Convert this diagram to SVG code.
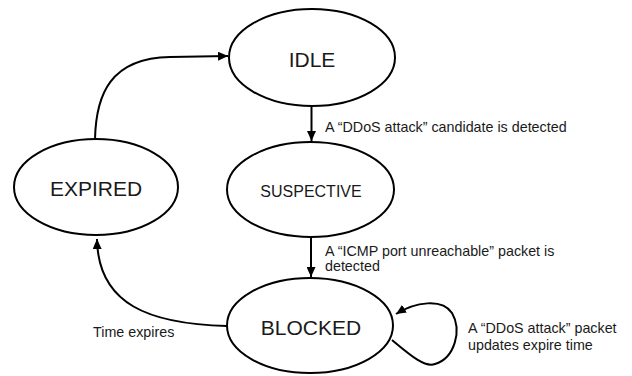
<svg xmlns="http://www.w3.org/2000/svg" width="632" height="376" viewBox="0 0 632 376">
  <style>
    .state { fill: #ffffff; stroke: #000000; stroke-width: 2; }
    .big { font-family: "Liberation Sans", Arial, sans-serif; font-size: 21px; fill: #1a1a1a; text-anchor: middle; }
    .mid { font-family: "Liberation Sans", Arial, sans-serif; font-size: 16px; fill: #1a1a1a; text-anchor: middle; }
    .lbl { font-family: "Liberation Sans", Arial, sans-serif; font-size: 14.3px; fill: #1a1a1a; }
    .edge { fill: none; stroke: #000000; stroke-width: 2; }
  </style>
  <defs>
    <marker id="arrow" markerUnits="userSpaceOnUse" markerWidth="11" markerHeight="9" refX="10" refY="4.5" orient="auto">
      <path d="M0,0 L10,4.5 L0,9 z" fill="#000000"/>
    </marker>
  </defs>
  <rect width="632" height="376" fill="#ffffff"/>

  <g id="connectors">
    <path class="edge" d="M311.5,106 L311.5,141" marker-end="url(#arrow)"/>
    <path class="edge" d="M311,237 L311,277" marker-end="url(#arrow)"/>
    <path class="edge" d="M95,139 C96,95 110,58 170,57 L228,56" marker-end="url(#arrow)"/>
    <path class="edge" d="M227,326 C150,324 98,305 97,239" marker-end="url(#arrow)"/>
    <path class="edge" d="M392,340 C410,355 425,368 435,364 C455,358 462,330 452,313 C442,298 415,302 396,314" marker-end="url(#arrow)"/>
    <text class="lbl" x="325" y="132">A “DDoS attack” candidate is detected</text>
    <text class="lbl" x="325" y="256">A “ICMP port unreachable” packet is</text>
    <text class="lbl" x="325" y="271">detected</text>
    <text class="lbl" x="93" y="337">Time expires</text>
    <text class="lbl" x="468" y="333">A “DDoS attack” packet</text>
    <text class="lbl" x="468" y="350">updates expire time</text>
  </g>

  <g id="node-idle">
    <ellipse class="state" cx="312" cy="57.5" rx="83" ry="48.5"/>
    <text class="big" x="312" y="67">IDLE</text>
  </g>
  <g id="node-suspective">
    <ellipse class="state" cx="310.5" cy="189.5" rx="83.5" ry="47.5"/>
    <text class="mid" x="311" y="197">SUSPECTIVE</text>
  </g>
  <g id="node-expired">
    <ellipse class="state" cx="96" cy="187" rx="82" ry="48"/>
    <text class="big" x="96" y="196">EXPIRED</text>
  </g>
  <g id="node-blocked">
    <ellipse class="state" cx="310" cy="325.5" rx="83" ry="47.5"/>
    <text class="big" x="311" y="335">BLOCKED</text>
  </g>
</svg>
